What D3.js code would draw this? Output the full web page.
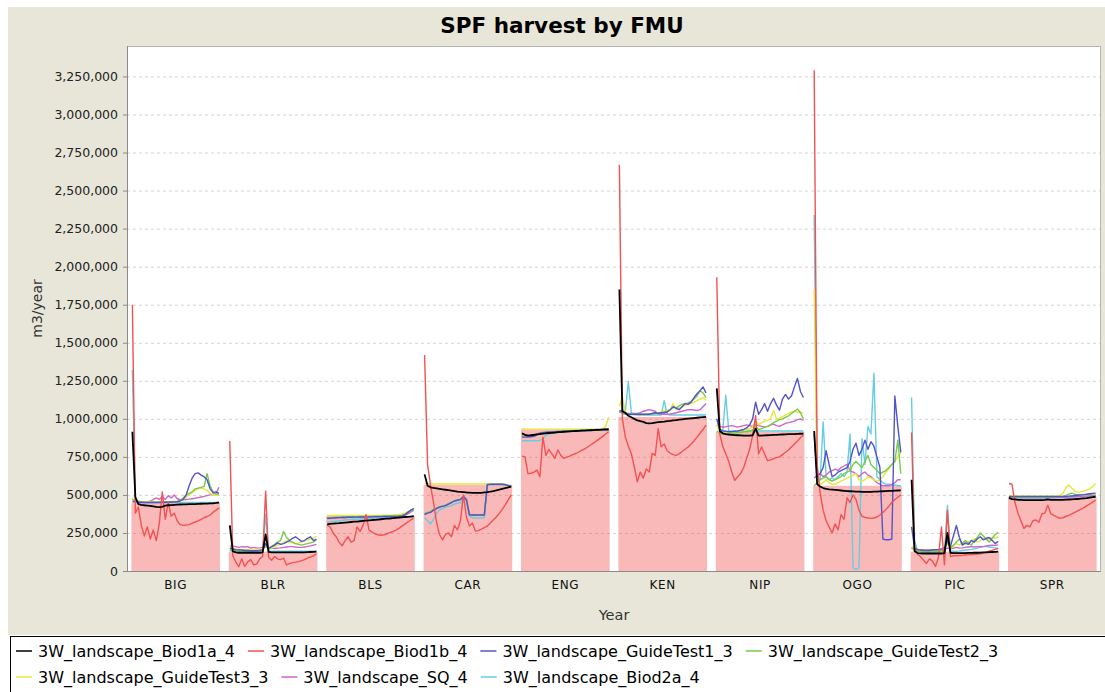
<!DOCTYPE html>
<html>
<head>
<meta charset="utf-8">
<script src="https://cdn.jsdelivr.net/npm/d3@7"></script>
<style>
  body { margin: 0; background: #fff; }
  svg { display: block; }
  text { font-family: "DejaVu Sans", sans-serif; }
</style>
</head>
<body>
<script>
// values in thousands of m3/year, 30 periods per FMU
const fmus = ['BIG', 'BLR', 'BLS', 'CAR', 'ENG', 'KEN', 'NIP', 'OGO', 'PIC', 'SPR'];
const barValues = [448, 127, 363, 565, 930, 1013, 915, 560, 127, 488];

const biod1a = [
  [915,485,440,435,432,430,428,425,422,420,422,430,432,433,435,436,437,438,438,439,440,440,441,442,443,443,444,445,447,450],
  [300,130,122,120,120,120,120,120,120,120,120,122,240,125,122,122,122,122,122,122,122,122,122,122,122,123,124,125,126,127],
  [307,309,311,313,314,316,318,320,322,324,325,327,329,331,333,335,336,338,340,342,344,345,347,349,351,353,355,356,358,360],
  [635,560,550,546,543,540,537,534,531,528,525,522,520,518,516,515,514,513,513,514,516,518,521,525,530,535,540,545,550,555],
  [905,895,890,892,895,898,900,903,905,907,908,910,912,913,915,916,918,919,920,921,922,923,924,925,926,927,928,929,930,930],
  [1850,1050,1040,1020,1010,1000,990,985,980,972,970,972,975,978,980,982,985,987,990,992,995,997,999,1001,1003,1005,1007,1009,1011,1013],
  [1200,920,905,900,897,895,893,892,891,890,890,890,892,935,890,890,891,892,893,894,895,896,897,898,899,900,900,901,902,903],
  [920,570,555,545,540,537,535,533,531,529,527,525,524,523,522,521,520,520,520,520,521,522,523,524,525,526,527,528,529,530],
  [600,130,118,116,115,115,115,115,115,115,115,118,250,120,118,118,118,118,118,119,119,120,120,121,122,123,124,125,126,127],
  [480,472,470,468,467,466,466,466,466,466,466,466,467,470,468,467,467,468,468,469,470,471,472,473,475,477,479,482,485,488]
];
const biod1b = [
  [1750,380,420,300,230,290,210,270,200,310,520,340,450,360,380,330,305,300,302,305,315,322,330,340,350,358,368,385,400,415],
  [855,100,60,28,80,30,60,75,40,45,80,95,525,90,70,95,80,75,85,40,48,55,58,62,68,75,85,92,100,112],
  [300,290,250,225,190,165,200,225,190,200,290,260,300,370,270,255,245,238,235,238,245,252,258,268,280,295,308,322,335,348],
  [1420,700,560,450,320,240,205,240,250,225,300,270,330,500,355,295,315,262,265,275,285,295,315,335,355,379,405,435,468,500],
  [755,750,640,642,650,663,620,880,760,800,770,740,795,760,740,748,755,765,772,782,792,802,815,828,842,855,870,885,900,915],
  [2670,1000,880,820,770,685,586,650,610,670,650,773,760,935,816,835,790,775,765,760,770,785,800,815,835,855,880,905,930,958],
  [1930,900,820,770,720,650,595,620,640,680,740,800,890,1020,770,815,770,725,730,738,745,750,765,780,795,815,835,855,875,895],
  [3290,700,510,400,330,290,250,310,270,370,340,480,450,500,470,400,360,352,348,346,348,355,368,385,405,425,450,470,485,500],
  [910,150,110,94,70,50,80,65,30,90,290,40,400,94,100,100,102,103,105,106,108,109,111,113,118,124,130,136,142,149],
  [575,570,450,380,330,280,300,290,330,335,320,375,380,433,375,365,355,346,350,358,366,375,385,395,405,415,428,440,452,466]
];
const guideTest1 = [
  [455,455,452,452,450,450,450,450,450,450,452,452,452,453,453,455,460,470,500,560,610,640,645,630,620,600,540,515,520,510],
  [150,145,140,138,138,135,135,133,133,133,135,140,180,150,160,170,185,175,180,190,200,215,225,210,195,200,215,225,200,210],
  [345,347,348,350,351,352,352,353,353,354,354,355,355,356,356,356,357,357,357,358,358,358,359,359,360,362,370,385,400,410],
  [370,380,385,400,410,420,425,430,440,450,460,465,470,490,470,370,368,368,368,368,368,568,570,570,570,570,570,568,562,558],
  [880,880,880,882,885,895,905,908,910,912,913,914,915,916,917,918,919,920,921,922,923,924,925,926,927,928,929,930,931,932],
  [1055,1045,1035,1030,1030,1030,1030,1030,1030,1030,1030,1035,1040,1035,1040,1040,1045,1060,1080,1070,1060,1080,1100,1095,1110,1140,1165,1185,1210,1170],
  [1000,930,920,918,915,915,918,920,925,930,940,960,1000,1110,1030,1060,1100,1050,1100,1135,1090,1057,1130,1160,1130,1150,1210,1265,1180,1140],
  [900,620,640,680,790,700,620,630,650,660,670,680,720,800,840,760,800,860,800,850,820,750,680,210,205,205,210,1150,950,780],
  [290,150,140,138,135,135,135,138,140,140,145,150,200,160,230,300,220,170,185,175,200,190,210,225,205,215,220,200,180,195],
  [490,490,490,490,490,490,490,490,490,490,490,490,490,490,490,490,490,490,490,490,492,494,496,498,500,502,505,508,510,512]
];
const guideTest2 = [
  [470,460,455,453,452,452,452,452,452,452,453,453,454,455,455,456,465,480,500,510,520,540,545,550,555,640,560,520,505,505],
  [140,135,132,130,130,130,130,130,128,130,132,135,170,140,160,175,190,200,260,220,200,190,180,175,170,175,180,185,190,205],
  [350,351,352,353,354,355,355,356,356,357,357,358,358,358,359,359,360,360,360,361,361,361,362,362,363,365,372,385,395,400],
  [380,385,390,405,415,422,428,432,442,452,462,468,472,488,468,372,370,370,370,370,370,566,568,568,568,568,568,566,560,556],
  [890,888,887,888,890,900,908,910,912,914,915,916,917,918,919,920,921,922,923,924,925,926,927,928,929,930,930,931,932,933],
  [1050,1035,1030,1028,1028,1028,1028,1028,1028,1028,1030,1032,1035,1038,1040,1045,1050,1060,1075,1070,1085,1095,1100,1105,1115,1130,1150,1185,1170,1140],
  [920,905,900,900,900,900,905,910,910,915,915,920,925,950,930,935,945,950,960,975,985,995,1000,1010,1020,1035,1050,1065,1040,1000],
  [560,580,600,610,620,600,590,600,610,620,640,650,660,700,720,700,680,720,760,700,680,660,640,650,660,680,700,720,860,640],
  [150,140,130,128,125,125,125,125,128,130,135,140,190,150,170,190,210,180,200,185,170,200,220,250,230,210,190,215,240,255],
  [485,485,485,485,485,485,485,485,485,485,485,485,485,486,486,486,487,488,490,495,505,512,505,500,500,500,502,504,505,507]
];
const guideTest3 = [
  [480,465,458,455,455,455,455,455,455,455,456,456,456,457,457,458,462,470,485,500,515,530,540,545,540,530,510,500,498,500],
  [155,150,145,142,140,140,140,138,138,138,140,142,170,145,150,160,170,180,185,200,190,185,180,185,190,200,205,210,215,230],
  [365,365,365,365,365,365,365,365,365,365,365,365,365,365,365,365,365,365,365,366,366,367,368,370,372,375,380,388,395,400],
  [575,573,572,572,572,572,572,572,572,572,572,572,572,572,572,572,572,572,572,572,572,572,572,572,572,572,570,568,565,562],
  [935,933,932,932,932,932,932,932,932,932,932,932,932,932,932,932,932,932,932,932,932,932,932,932,932,932,933,935,950,1010],
  [1080,1145,1040,1030,1030,1028,1028,1028,1028,1030,1032,1035,1040,1040,1045,1050,1055,1060,1100,1060,1070,1080,1090,1095,1100,1110,1120,1130,1140,1120],
  [960,920,910,905,905,905,910,915,920,925,930,935,945,990,960,975,985,990,1000,1055,1000,1005,1015,1025,1035,1045,1050,1045,1040,1040],
  [1850,580,570,580,600,580,570,570,580,590,600,610,620,630,640,600,590,600,620,610,600,590,600,620,650,670,700,720,750,780],
  [160,145,135,132,130,130,130,130,132,135,138,145,180,150,165,180,170,185,175,190,200,210,190,200,215,205,210,220,215,225],
  [492,492,492,492,492,492,492,492,492,492,492,492,492,492,492,492,493,495,510,545,565,545,525,518,520,525,532,540,555,575]
];
const sq = [
  [470,462,458,456,455,456,458,470,480,470,490,470,495,480,500,475,470,468,470,472,475,478,482,486,490,495,500,505,510,550],
  [165,165,160,155,160,158,160,150,155,150,152,155,160,150,150,148,150,152,155,158,160,160,158,155,155,158,162,165,170,175],
  [348,349,350,350,351,352,352,353,353,354,354,354,355,355,355,356,356,356,357,357,357,358,358,358,359,360,365,375,388,398],
  [375,382,388,402,412,421,426,431,441,451,461,466,471,489,469,371,369,369,369,369,369,567,569,569,569,569,569,567,561,557],
  [895,893,892,893,895,900,907,910,912,914,915,916,917,918,919,920,921,922,923,924,925,926,927,928,929,930,930,931,932,933],
  [1045,1035,1035,1035,1035,1035,1035,1040,1050,1055,1060,1055,1050,1035,1030,1030,1030,1032,1035,1040,1045,1050,1055,1060,1060,1058,1055,1060,1080,1100],
  [958,950,945,948,952,955,950,945,950,955,960,955,950,960,955,950,945,950,960,965,955,950,960,970,975,980,985,995,1000,990],
  [610,630,640,620,630,650,660,670,660,680,690,700,660,650,640,620,640,650,630,620,600,580,570,560,560,560,570,580,600,600],
  [150,145,140,138,138,138,138,138,138,140,140,142,150,145,150,155,150,152,155,158,160,158,160,162,160,165,168,170,168,172],
  [482,482,482,482,482,482,482,482,482,482,482,482,482,483,483,483,484,484,485,486,487,488,489,490,491,492,493,494,495,496]
];
const biod2a = [
  [1320,460,452,450,450,450,450,450,450,450,450,450,450,450,450,450,450,450,450,450,450,450,450,450,450,450,450,450,450,452],
  [135,130,128,126,125,125,125,125,125,125,125,128,370,130,130,130,130,130,130,130,130,130,130,130,130,130,130,130,130,132],
  [320,322,325,328,330,332,335,337,338,340,341,342,343,344,345,346,347,348,349,350,351,352,353,354,355,358,368,385,400,412],
  [350,330,310,340,380,400,410,420,425,430,440,445,450,480,460,360,350,348,348,348,350,565,568,568,568,568,568,565,560,555],
  [856,856,856,856,856,856,858,870,890,900,905,908,910,912,914,915,916,917,918,919,920,921,922,923,924,925,926,927,928,930],
  [1040,1060,1050,1245,1040,1030,1025,1025,1025,1025,1025,1025,1025,1025,1025,1120,1030,1025,1025,1025,1025,1025,1025,1025,1025,1025,1025,1025,1025,1025],
  [1000,930,925,1155,922,920,920,920,920,920,920,920,920,920,920,920,920,920,920,920,920,920,920,920,920,920,920,920,920,920],
  [2340,620,600,980,620,600,610,600,620,640,620,650,900,20,10,20,870,700,950,900,1300,620,600,580,570,570,565,565,560,560],
  [1140,200,130,126,125,125,125,125,125,125,125,128,430,130,130,130,132,135,138,140,142,145,150,155,160,160,158,155,150,150],
  [480,480,480,480,480,480,480,480,480,480,480,480,480,481,481,481,482,482,483,483,484,485,486,487,488,489,490,491,492,493]
];

const seriesNames = ['3W_landscape_Biod1a_4', '3W_landscape_Biod1b_4', '3W_landscape_GuideTest1_3',
  '3W_landscape_GuideTest2_3', '3W_landscape_GuideTest3_3', '3W_landscape_SQ_4', '3W_landscape_Biod2a_4'];
const seriesData = [biod1a, biod1b, guideTest1, guideTest2, guideTest3, sq, biod2a];
const seriesColors = ['#000000', '#f25252', '#5353cc', '#76cc45', '#e6e63c', '#cc66cc', '#66cde0'];

const W = 1105, H = 692;
const plot = { left: 127, top: 46, right: 1101, bottom: 571 };

const svg = d3.select('body').append('svg')
    .attr('width', W)
    .attr('height', H);

svg.append('rect').attr('width', W).attr('height', H).attr('fill', '#fff');
// chart background
svg.append('rect')
    .attr('x', 8).attr('y', 7)
    .attr('width', W - 8).attr('height', 628)
    .attr('fill', '#e8e6d8');

svg.append('text')
    .attr('x', 562).attr('y', 33)
    .attr('text-anchor', 'middle')
    .style('font-size', '21.5px')
    .style('font-weight', 'bold')
    .attr('fill', '#000')
    .text('SPF harvest by FMU');

// plot area
svg.append('rect')
    .attr('x', plot.left).attr('y', plot.top)
    .attr('width', plot.right - plot.left).attr('height', plot.bottom - plot.top)
    .attr('fill', '#fff');

const x = d3.scaleBand()
    .domain(fmus)
    .range([plot.left, plot.right])
    .paddingInner(0.09)
    .paddingOuter(0.045);

const y = d3.scaleLinear()
    .domain([0, 3450])
    .range([plot.bottom, plot.top]);

const yTicks = d3.range(0, 3251, 250);

// gridlines
svg.append('g').selectAll('line')
    .data(yTicks.filter(d => d > 0))
    .enter().append('line')
    .attr('x1', plot.left).attr('x2', plot.right)
    .attr('y1', d => y(d) + 0.5).attr('y2', d => y(d) + 0.5)
    .attr('stroke', '#d4d4d4')
    .attr('stroke-dasharray', '3,3');

// bars
svg.append('g').selectAll('rect')
    .data(fmus)
    .enter().append('rect')
    .attr('x', d => x(d))
    .attr('y', (d, i) => y(barValues[i]))
    .attr('width', x.bandwidth())
    .attr('height', (d, i) => y(0) - y(barValues[i]))
    .attr('fill', '#f05050')
    .attr('fill-opacity', 0.4);

// lines, drawn in reverse order so the first series ends on top
svg.append('clipPath').attr('id', 'plotclip')
    .append('rect')
    .attr('x', plot.left).attr('y', plot.top)
    .attr('width', plot.right - plot.left).attr('height', plot.bottom - plot.top);

const linesG = svg.append('g').attr('clip-path', 'url(#plotclip)');
for (let s = seriesData.length - 1; s >= 0; s--) {
    fmus.forEach((fmu, c) => {
        const vals = seriesData[s][c];
        const xi = d3.scaleLinear()
            .domain([0, vals.length - 1])
            .range([x(fmu) + 1, x(fmu) + x.bandwidth() - 1]);
        const line = d3.line()
            .x((d, i) => xi(i))
            .y(d => y(d));
        linesG.append('path')
            .datum(vals)
            .attr('d', line)
            .attr('fill', 'none')
            .attr('stroke', seriesColors[s])
            .attr('stroke-width', s === 0 ? 1.8 : 1.4)
            .attr('stroke-linejoin', 'round');
    });
}

// plot outline
svg.append('rect')
    .attr('x', plot.left + 0.5).attr('y', plot.top + 0.5)
    .attr('width', plot.right - plot.left - 1).attr('height', plot.bottom - plot.top)
    .attr('fill', 'none')
    .attr('stroke', '#b4b4b4');

// y axis
const yAxis = svg.append('g')
    .attr('transform', `translate(${plot.left},0)`)
    .call(d3.axisLeft(y)
        .tickValues(yTicks)
        .tickSize(4)
        .tickPadding(5)
        .tickFormat(d => d3.format(',')(d * 1000)));
yAxis.select('.domain').attr('stroke', '#8a8a8a').attr('d', `M0.5,${plot.top}V${plot.bottom}`);
yAxis.selectAll('.tick line').attr('stroke', '#8a8a8a');
yAxis.selectAll('.tick text')
    .attr('fill', '#222')
    .style('font-size', '12.5px')
    .style('font-family', '"DejaVu Sans", sans-serif');

// x axis
const xAxis = svg.append('g')
    .attr('transform', `translate(0,${plot.bottom})`)
    .call(d3.axisBottom(x).tickSize(0).tickPadding(9));
xAxis.select('.domain').attr('stroke', '#8a8a8a').attr('d', `M${plot.left},0.5H${plot.right}`);
xAxis.selectAll('.tick text')
    .attr('fill', '#111')
    .style('font-size', '12px')
    .style('letter-spacing', '0.6px')
    .style('font-family', '"DejaVu Sans", sans-serif');

svg.append('text')
    .attr('transform', `translate(42,${(plot.top + plot.bottom) / 2}) rotate(-90)`)
    .attr('text-anchor', 'middle')
    .style('font-size', '14px')
    .attr('fill', '#333')
    .text('m3/year');

svg.append('text')
    .attr('x', (plot.left + plot.right) / 2).attr('y', 620)
    .attr('text-anchor', 'middle')
    .style('font-size', '14.5px')
    .attr('fill', '#333')
    .text('Year');

// legend
svg.append('rect')
    .attr('x', 10.5).attr('y', 636.5)
    .attr('width', W).attr('height', 80)
    .attr('fill', '#fff')
    .attr('stroke', '#000');

const legendRows = [[0, 1, 2, 3], [4, 5, 6]];
const legendBase = [657, 683];
legendRows.forEach((row, r) => {
    let cx = 16;
    row.forEach(s => {
        const g = svg.append('g');
        g.append('line')
            .attr('x1', cx).attr('x2', cx + 16)
            .attr('y1', legendBase[r] - 6).attr('y2', legendBase[r] - 6)
            .attr('stroke', seriesColors[s])
            .attr('stroke-width', 1.5);
        const t = g.append('text')
            .attr('x', cx + 22).attr('y', legendBase[r])
            .style('font-size', '16px')
            .attr('fill', '#000')
            .text(seriesNames[s]);
        cx += 22 + t.node().getComputedTextLength() + 13;
    });
});
</script>
</body>
</html>
